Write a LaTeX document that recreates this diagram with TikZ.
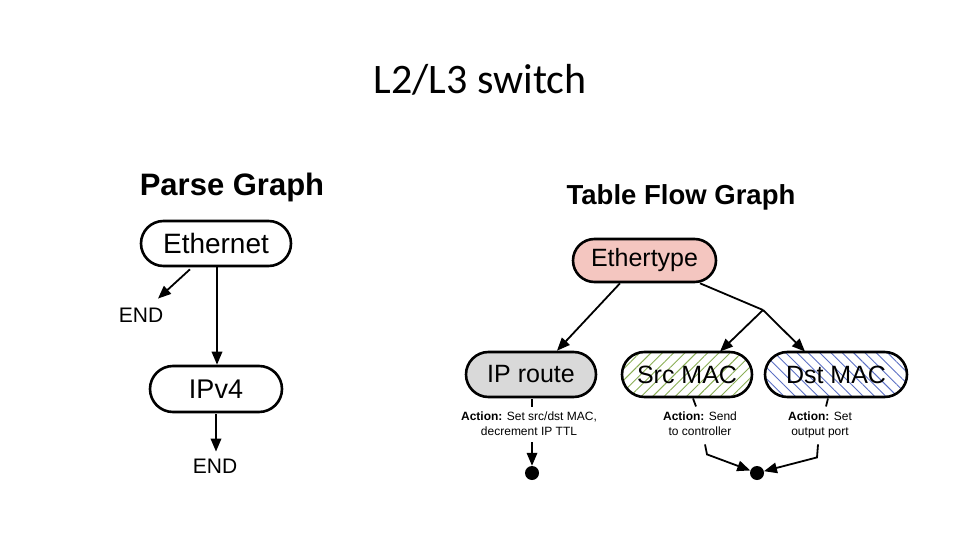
\documentclass[tikz,border=0pt]{standalone}
\usepackage{fontspec}
\setmainfont{Liberation Sans}
\newfontfamily\titlefont{Carlito}
\usetikzlibrary{arrows.meta,patterns.meta,shapes.misc,calc}
\definecolor{ethfill}{HTML}{F4C6C0}
\definecolor{ipfill}{HTML}{D9D9D9}
\definecolor{srcgreen}{HTML}{8AAE55}
\definecolor{dstblue}{HTML}{5B6FC4}
\begin{document}
\begin{tikzpicture}[x=1pt,y=-1pt,
  capsule/.style={draw, line width=2.6pt, rounded rectangle, inner sep=0pt, minimum height=45pt},
  arr/.style={line width=1.8pt, -{Triangle[length=13pt,width=10.5pt]}},
  ln/.style={line width=1.8pt},
  act/.style={align=center, font=\fontsize{12}{15.5}\selectfont, inner sep=0pt, anchor=north},
  heading/.style={font=\bfseries\fontsize{31}{34}\selectfont},
  endlbl/.style={font=\fontsize{21}{24}\selectfont, inner sep=0pt},
  dot/.style={circle, fill=black, inner sep=0pt, minimum size=14pt}]
\useasboundingbox (0,0) rectangle (960,540);

\node[font=\titlefont\fontsize{42}{46}\selectfont] (title) at (480,80) {L2/L3 switch};

% Parse graph
\node[heading] (pg) at (232,187) {Parse Graph};
\node[capsule, minimum width=150pt, font=\fontsize{28}{30}\selectfont] (eth) at (216,243.5) {Ethernet};
\node[capsule, minimum width=132pt, minimum height=46pt, font=\fontsize{27}{30}\selectfont] (ipv4) at (216,389) {IPv4};
\node[endlbl] (end1) at (141,315) {END};
\node[endlbl] (end2) at (215,466) {END};
\draw[arr] ($(eth.south)+(-26,2)$) -- ($(end1.north)+(17,-9)$);
\draw[arr] ($(eth.south)+(1,0)$) -- ($(ipv4.north)+(1,0)$);
\draw[arr] ($(ipv4.south)+(0,1)$) -- ($(end2.north)+(1,-7)$);

% Table flow graph
\node[heading, font=\bfseries\fontsize{27.5}{30}\selectfont] (tfg) at (681,197) {Table Flow Graph};
\node[capsule, minimum width=143pt, minimum height=43pt, fill=ethfill, font=\fontsize{25}{28}\selectfont] (ethertype) at (644.5,260.5) {Ethertype};
\node[capsule, minimum width=130pt, fill=ipfill, font=\fontsize{25}{28}\selectfont] (iproute) at (531,374.5) {IP route};
\node[capsule, minimum width=130pt, pattern={Lines[angle=45,distance=8pt,line width=0.9pt]}, pattern color=srcgreen, font=\fontsize{25}{28}\selectfont] (srcmac) at (687,374.5) {Src MAC};
\node[capsule, minimum width=142pt, pattern={Lines[angle=-45,distance=8pt,line width=0.9pt]}, pattern color=dstblue, font=\fontsize{25}{28}\selectfont] (dstmac) at (836,374.5) {Dst MAC};

\coordinate (br) at (763,310);
\draw[arr] ($(ethertype.south)+(-24.5,0)$) -- ($(iproute.north)+(26,0)$);
\draw[ln] ($(ethertype.south)+(55.5,0)$) -- (br);
\draw[arr] (br) -- ($(srcmac.north)+(33,0)$);
\draw[arr] (br) -- ($(dstmac.north)+(-31,0)$);

\node[act] (act1) at (529,409) {\strut\textbf{Action:} Set src/dst MAC,\\\strut decrement IP TTL};
\node[act] (act2) at (700,409) {\strut\textbf{Action:} Send\\\strut to controller};
\node[act] (act3) at (820,409) {\strut\textbf{Action:} Set\\\strut output port};

\draw[ln] ($(iproute.south)+(1,1)$) -- ($(iproute.south)+(1,9)$);
\draw[ln] ($(srcmac.south)+(6,1)$) -- ($(srcmac.south)+(9,9)$);
\draw[ln] ($(dstmac.south)+(-8,1)$) -- ($(dstmac.south)+(-10,9)$);

\node[dot] (d1) at (532,473) {};
\node[dot] (d2) at (757,473) {};
\draw[arr] ($(act1.south)+(3,2)$) -- (d1);
\draw[arr] ($(act2.south)+(5,4)$) -- ++(2,10) -- (d2);
\draw[arr] ($(act3.south)+(-2,4)$) -- ++(-1,13) -- (d2);
\end{tikzpicture}
\end{document}
